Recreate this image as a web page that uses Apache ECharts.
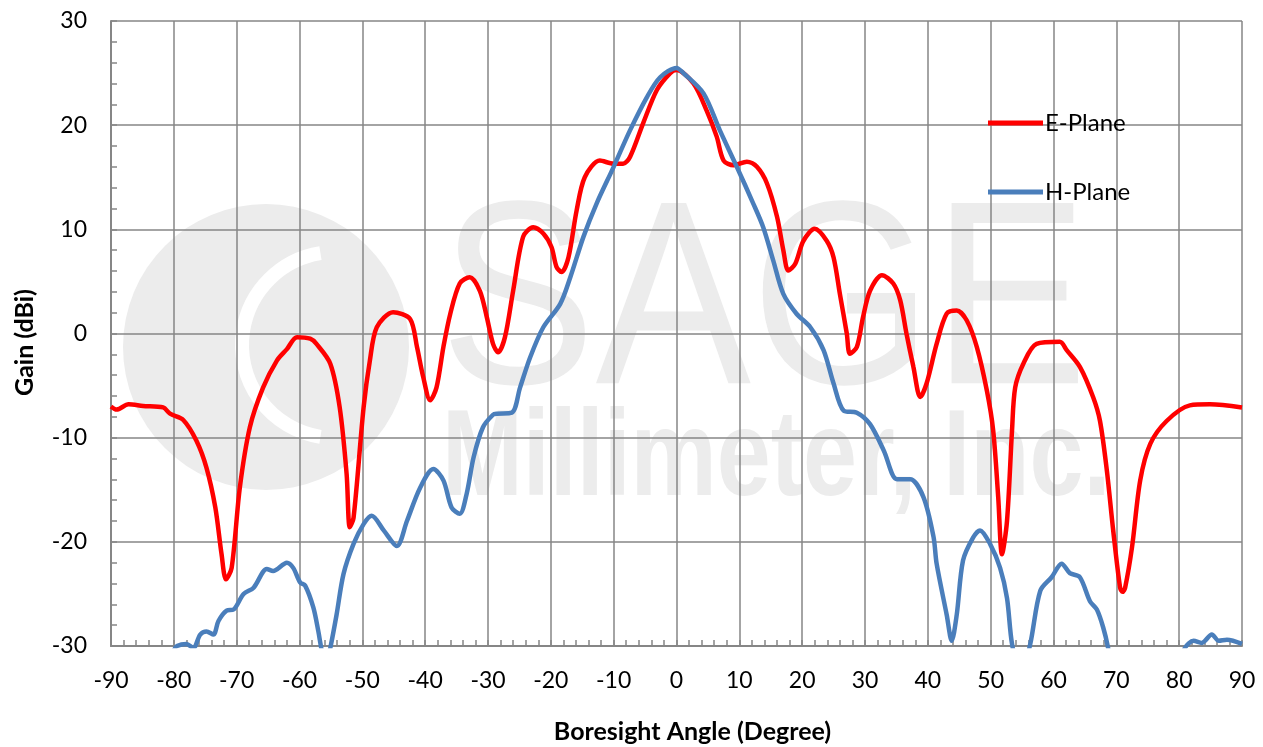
<!DOCTYPE html>
<html>
<head>
<meta charset="utf-8">
<script src="https://cdn.jsdelivr.net/npm/echarts@6/dist/echarts.min.js"></script>
<style>
html,body{margin:0;padding:0;background:#fff;}
#chart{width:1263px;height:747px;}
</style>
</head>
<body>
<div id="chart"></div>
<script>
// ---- Data ----
const xTicks = [-90,-80,-70,-60,-50,-40,-30,-20,-10,0,10,20,30,40,50,60,70,80,90];
const yTicks = [-30,-20,-10,0,10,20,30];

const eAngles = [-90,-89.1,-87.2,-84.9,-81.7,-80.6,-78.5,-76.4,-74.8,-73.4,-72.4,-71.7,-70.8,-69.5,-67.9,-65.8,-63.6,-62.0,-60.4,-58.3,-57.3,-55.1,-53.6,-52.5,-52.0,-51.4,-49.8,-48.8,-47.7,-45.1,-42.4,-41.3,-40.3,-39.2,-38.2,-37.1,-36.0,-34.5,-32.9,-31.3,-30.2,-29.2,-28.4,-27.3,-26.0,-24.4,-22.8,-21.2,-19.9,-19.1,-18.3,-17.2,-15.9,-14.6,-12.2,-10.0,-8.5,-7.4,-5.3,-3.1,-1.0,0,2.7,4.8,6.4,7.5,9.1,11.2,12.8,14.4,16.0,17.0,17.8,18.9,20.2,22.0,23.9,25.0,26.0,27.1,27.6,28.7,29.7,30.8,32.7,34.5,35.6,36.6,37.7,38.8,39.8,41.4,43.0,44.6,46.2,47.8,49.4,50.4,51.2,51.8,52.6,53.4,53.9,55.2,57.3,61.0,62.1,64.2,66.3,67.4,68.5,69.5,70.6,71.0,71.4,72.5,73.8,75.4,78.0,81.7,84.9,90];
const eGain   = [-7.0,-7.3,-6.8,-6.95,-7.1,-7.7,-8.3,-10.3,-12.9,-16.7,-21.2,-23.6,-22.5,-14.8,-9.0,-5.2,-2.6,-1.5,-0.35,-0.5,-1.0,-2.9,-7.1,-13.5,-18.6,-17.7,-7.1,-2.6,0.6,2.05,1.4,-1.3,-4.2,-6.4,-5.2,-1.3,1.9,4.8,5.4,4.1,1.6,-1.0,-1.8,-0.35,4.1,9.3,10.2,9.6,8.3,6.4,5.9,7.3,11.8,15.0,16.6,16.3,16.3,16.95,20.2,23.4,25.0,25.3,24.0,21.4,18.9,16.6,16.15,16.5,16.0,14.4,11.2,8.0,6.05,6.7,8.9,10.05,8.9,7.3,3.8,0.0,-1.95,-1.3,1.6,4.1,5.6,4.8,3.2,0.0,-3.2,-6.1,-4.8,-1.0,1.9,2.2,1.25,-1.3,-5.5,-9.3,-15.7,-21.2,-18.0,-9.3,-5.2,-2.9,-1.0,-0.8,-1.6,-3.2,-6.1,-8.4,-13.2,-18.9,-24.4,-24.8,-24.4,-20.5,-14.1,-10.6,-8.4,-6.9,-6.8,-7.1];

const hAngles = [-80.0,-79.5,-78.0,-76.9,-75.8,-74.8,-73.7,-72.9,-71.6,-70.5,-68.9,-67.3,-65.2,-64.2,-62.0,-61.0,-59.9,-59.1,-57.8,-57.0,-56.5,-55.8,-55.1,-54.1,-53.0,-51.4,-49.8,-48.5,-46.6,-44.5,-42.9,-40.8,-38.7,-37.1,-35.8,-34.5,-33.4,-32.3,-30.8,-29.2,-28.6,-26.2,-24.9,-23.3,-21.2,-18.5,-16.9,-14.8,-12.7,-10.0,-7.4,-4.7,-2.6,0,1.1,4.3,6.9,9.6,12.2,13.8,15.4,17.0,19.1,21.3,23.4,25.0,26.6,28.7,30.8,33.0,35.1,37.2,39.3,40.9,41.4,43.0,43.8,44.6,45.6,47.2,48.3,49.9,51.5,52.6,53.4,54.8,56.3,57.9,59.7,61.3,62.6,64.2,65.8,66.9,67.9,68.7,69.5,75.0,80.0,80.9,82.3,83.6,85.2,86.3,87.6,90];
const hGain   = [-30.4,-30.0,-29.8,-30.2,-28.9,-28.6,-28.9,-27.6,-26.6,-26.5,-25.0,-24.4,-22.6,-22.8,-22.0,-22.5,-23.9,-24.2,-26.3,-28.6,-30.3,-32.0,-30.2,-27.0,-23.1,-20.2,-18.3,-17.5,-18.9,-20.4,-18.0,-14.8,-13.0,-14.1,-16.7,-17.3,-15.4,-11.9,-9.0,-7.8,-7.7,-7.6,-5.2,-2.3,0.6,2.85,5.4,9.3,12.5,16.0,19.5,22.7,24.6,25.5,25.0,23.05,19.5,16.0,12.5,10.2,7.0,3.8,1.9,0.6,-1.6,-4.8,-7.4,-7.6,-8.7,-11.25,-14.0,-14.0,-15.7,-19.5,-22.1,-27.0,-29.5,-27.0,-21.8,-19.6,-18.9,-20.2,-22.5,-25.4,-29.8,-33.0,-29.8,-24.7,-23.4,-22.1,-23.0,-23.4,-25.7,-26.5,-28.2,-30.2,-33.0,null,-32.0,-30.2,-29.5,-29.7,-28.9,-29.5,-29.4,-29.8];

const seriesNames = ['E-Plane','H-Plane'];
const axisNames = {x:'Boresight Angle (Degree)', y:'Gain (dBi)'};
const watermark = {big:'SAGE', small:'Millimeter, Inc.'};

// ---- Chart ----
const FONT = 'Lato, "Open Sans", sans-serif';
const GRAY = '#868686';
const WM = '#ececec';
const pairs = (xs, ys) => xs.map((x,i) => [x, ys[i] === null ? '-' : ys[i]]);

const chart = echarts.init(document.getElementById('chart'), null, {renderer:'canvas'});
chart.setOption({
  animation:false,
  backgroundColor:'#ffffff',
  textStyle:{fontFamily:FONT},
  grid:{left:111, right:21, top:21, bottom:101, containLabel:false, outerBoundsMode:'none'},
  graphic:[
    {type:'circle', z:-10, silent:true, shape:{cx:266, cy:347, r:143}, style:{fill:WM}},
    {type:'arc', z:-9, silent:true, shape:{cx:335, cy:345, r:93, startAngle:Math.PI*0.55, endAngle:Math.PI*1.45}, style:{stroke:'#ffffff', lineWidth:14, fill:null}},
    {type:'text', z:-10, silent:true, left:440, top:180, scaleX:0.89, style:{text:watermark.big, fontSize:262, fontFamily:'"Liberation Sans", Arial, sans-serif', fill:WM}},
    {type:'text', z:-10, silent:true, left:442, top:400, scaleX:0.795, style:{text:watermark.small, fontSize:122, fontWeight:'bold', fontFamily:'"Liberation Sans", Arial, sans-serif', fill:WM}}
  ],
  legend:{
    orient:'vertical', left:988, top:111, padding:0, itemGap:45, itemWidth:55, itemHeight:5,
    icon:'rect',
    textStyle:{fontSize:24, color:'#000', fontFamily:FONT, padding:[0,0,0,-3]},
    data:seriesNames
  },
  xAxis:{
    type:'value', min:-90, max:90, interval:10,
    name:axisNames.x, nameLocation:'middle', nameGap:73,
    nameTextStyle:{fontSize:25, fontWeight:'bold', color:'#000', fontFamily:FONT, padding:[0,0,0,32]},
    axisLine:{show:true, onZero:false, lineStyle:{color:GRAY, width:2}},
    axisTick:{show:true, inside:true, length:6, lineStyle:{color:GRAY, width:1.5}},
    minorTick:{show:true, splitNumber:5, length:6, lineStyle:{color:GRAY, width:1.5}},
    axisLabel:{fontSize:23, color:'#000', margin:23, fontFamily:FONT,
      formatter:(v)=> xTicks.includes(v) ? String(v) : ''},
    splitLine:{show:true, lineStyle:{color:GRAY, width:1.5}}
  },
  yAxis:{
    type:'value', min:-30, max:30, interval:10,
    name:axisNames.y, nameLocation:'middle', nameGap:74, nameRotate:90,
    nameTextStyle:{fontSize:25, fontWeight:'bold', color:'#000', fontFamily:FONT, padding:[0,18,0,0]},
    axisLine:{show:true, onZero:false, lineStyle:{color:GRAY, width:2}},
    axisTick:{show:true, inside:true, length:6, lineStyle:{color:GRAY, width:1.5}},
    minorTick:{show:true, splitNumber:5, length:6, lineStyle:{color:GRAY, width:1.5}},
    axisLabel:{fontSize:23, color:'#000', margin:24, fontFamily:FONT,
      formatter:(v)=> yTicks.includes(v) ? String(v) : ''},
    splitLine:{show:true, lineStyle:{color:GRAY, width:1.5}}
  },
  series:[
    {name:seriesNames[0], type:'line', data:pairs(eAngles,eGain), showSymbol:false, symbol:'none',
      smooth:0.3, clip:true, lineStyle:{color:'#ff0000', width:4.5}, itemStyle:{color:'#ff0000'}, z:3},
    {name:seriesNames[1], type:'line', data:pairs(hAngles,hGain), showSymbol:false, symbol:'none',
      smooth:0.3, clip:true, connectNulls:false, lineStyle:{color:'#4a7ebb', width:4.5}, itemStyle:{color:'#4a7ebb'}, z:4}
  ]
});
</script>
</body>
</html>
